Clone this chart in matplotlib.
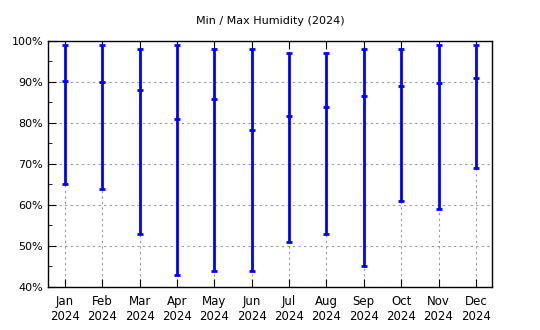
import matplotlib
matplotlib.use("Agg")
import matplotlib.pyplot as plt
from matplotlib.ticker import MultipleLocator, FuncFormatter

months = ["Jan\n2024", "Feb\n2024", "Mar\n2024", "Apr\n2024", "May\n2024", "Jun\n2024",
          "Jul\n2024", "Aug\n2024", "Sep\n2024", "Oct\n2024", "Nov\n2024", "Dec\n2024"]
hum_min = [65, 64, 53, 43, 44, 44, 51, 53, 45, 61, 59, 69]
hum_avg = [90.2, 90, 88, 81, 85.9, 78.4, 81.7, 83.9, 86.6, 89, 89.8, 91]
hum_max = [99, 99, 98, 99, 98, 98, 97, 97, 98, 98, 99, 99]

fig = plt.figure(figsize=(5.4, 3.3), dpi=100)
ax = fig.add_axes([0.0889, 0.1303, 0.8222, 0.7455])
x = list(range(len(months)))
ax.vlines(x, hum_min, hum_max, color="#0000ff", linewidth=2, zorder=3)
for vals in (hum_min, hum_avg, hum_max):
    ax.plot(x, vals, linestyle="none", marker="_", markersize=4, markeredgewidth=2,
            color="#0000ff", zorder=4)

ax.set_xlim(-0.45, 11.43)
ax.set_ylim(40, 100)
ax.set_xticks(x)
ax.set_xticklabels(months, fontsize=8.5, linespacing=1.15)
ax.yaxis.set_major_locator(MultipleLocator(10))
ax.yaxis.set_minor_locator(MultipleLocator(5))
ax.yaxis.set_major_formatter(FuncFormatter(lambda v, p: f"{int(v)}%"))
ax.tick_params(axis="y", labelsize=8, direction="in", which="both", left=True, right=False)
ax.tick_params(axis="y", which="major", length=6)
ax.tick_params(axis="y", which="minor", length=3)
ax.tick_params(axis="x", direction="in", top=True, bottom=True, length=6, pad=6)
ax.grid(True, which="major", linestyle=(0, (2, 3)), color="#999999", linewidth=0.8)
for s in ax.spines.values():
    s.set_linewidth(1)
ax.set_title("Min / Max Humidity (2024)", fontsize=8, pad=12)
fig.savefig("out.png", dpi=100)
